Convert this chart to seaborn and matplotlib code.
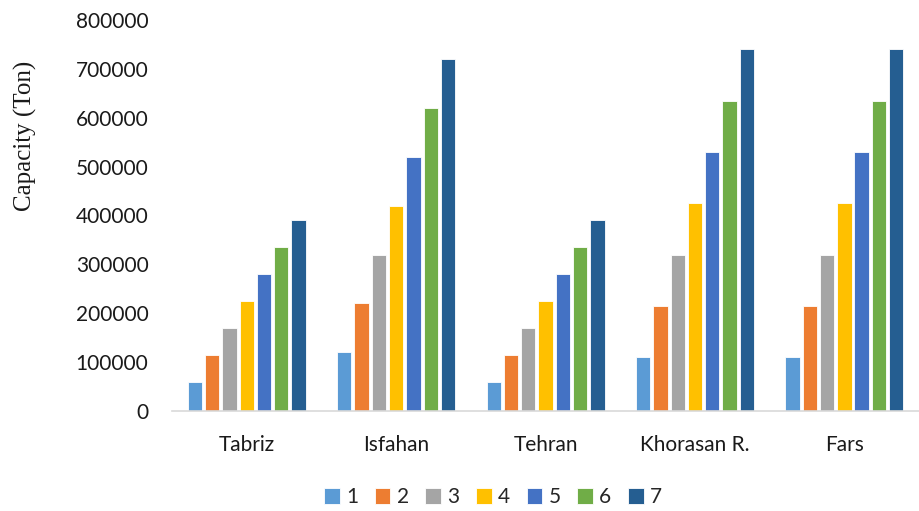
import numpy as np
import pandas as pd
import matplotlib
matplotlib.use("Agg")
import matplotlib.pyplot as plt
import seaborn as sns

# Regions and scenario capacities (tons)
regions = ["Tabriz", "Isfahan", "Tehran", "Khorasan R.", "Fars"]
scenarios = ["1", "2", "3", "4", "5", "6", "7"]
tabriz = [60000, 115000, 170000, 225000, 280000, 335000, 390000]
isfahan = [120000, 220000, 320000, 420000, 520000, 620000, 720000]
tehran = [60000, 115000, 170000, 225000, 280000, 335000, 390000]
khorasan = [110000, 215000, 320000, 425000, 530000, 635000, 740000]
fars = [110000, 215000, 320000, 425000, 530000, 635000, 740000]
y_ticks = [0, 100000, 200000, 300000, 400000, 500000, 600000, 700000, 800000]

colors = ["#5B9BD5", "#ED7D31", "#A5A5A5", "#FFC000", "#4472C4", "#70AD47", "#255E91"]

rows = []
for region, vals in zip(regions, [tabriz, isfahan, tehran, khorasan, fars]):
    for s, v in zip(scenarios, vals):
        rows.append({"Region": region, "Scenario": s, "Capacity": v})
df = pd.DataFrame(rows)

sns.set_theme(style="white")
plt.rcParams["font.family"] = ["Lato", "DejaVu Sans"]

fig = plt.figure(figsize=(9.2, 5.11), dpi=100)
ax = fig.add_axes([0.187, 0.1957, 0.812, 0.7653])

sns.barplot(data=df, x="Region", y="Capacity", hue="Scenario", order=regions,
            hue_order=scenarios, palette=colors, width=0.81, gap=0.17,
            edgecolor="white", linewidth=0.6, saturation=1, ax=ax, errorbar=None)

ax.set_ylim(0, 800000)
ax.set_yticks(y_ticks)
ax.set_yticklabels([str(t) for t in y_ticks], fontsize=15, color="#1a1a1a")
ax.tick_params(axis="x", labelsize=15, colors="#1a1a1a", length=0, pad=17)
ax.tick_params(axis="y", length=0, pad=17)
ax.set_xlabel("")
ax.set_ylabel("")
fig.text(0.028, 0.735, "Capacity (Ton)", family=["Liberation Serif"], fontsize=18,
         color="#1a1a1a", rotation=90, ha="center", va="center")

for side in ["top", "right", "left"]:
    ax.spines[side].set_visible(False)
ax.spines["bottom"].set_color("#D9D9D9")
ax.spines["bottom"].set_linewidth(1.2)
ax.grid(False)

handles, labels = ax.get_legend_handles_labels()
ax.legend_.remove()
fig.legend(handles, labels, loc="center", bbox_to_anchor=(0.536, 0.027), ncol=7,
           frameon=False, fontsize=15, handlelength=0.75, handleheight=0.75,
           handletextpad=0.3, columnspacing=0.8)

fig.savefig("out.png", dpi=100)
